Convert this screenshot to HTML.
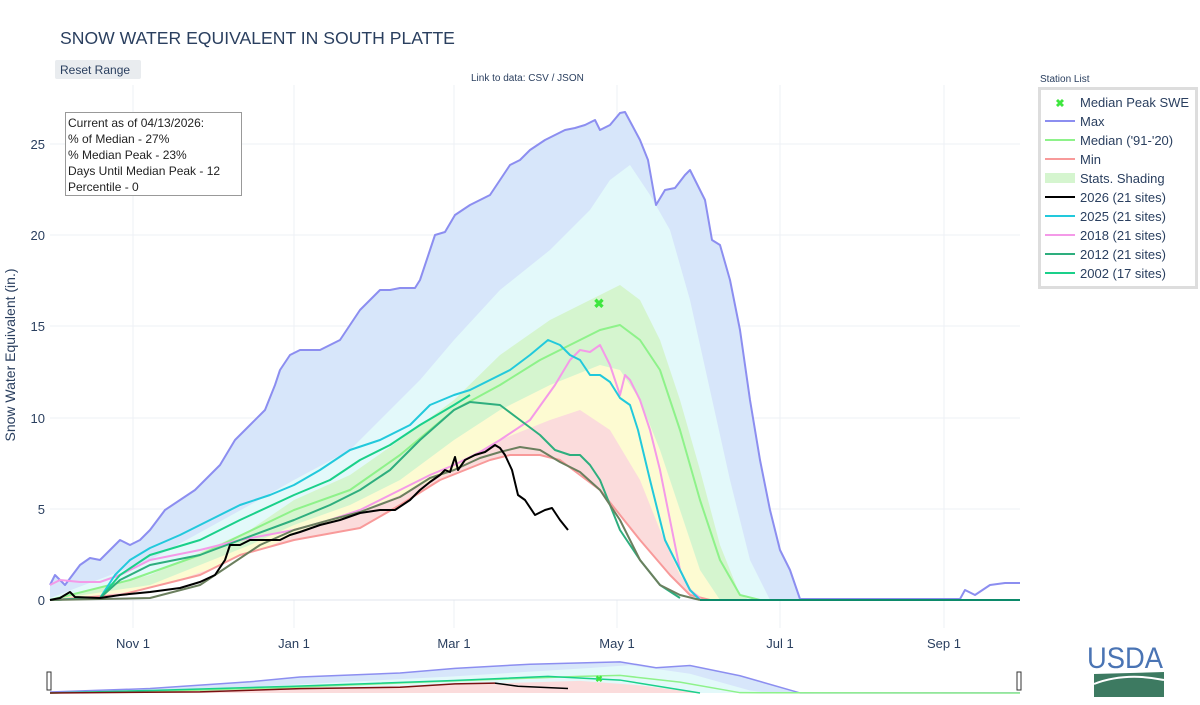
<!DOCTYPE html><html><head><meta charset="utf-8"><style>
body{margin:0;background:#fff;font-family:"Liberation Sans",sans-serif;}
</style></head><body>
<svg width="1200" height="700" viewBox="0 0 1200 700" xmlns="http://www.w3.org/2000/svg" font-family="Liberation Sans, sans-serif">
<rect width="1200" height="700" fill="#fff"/>
<text x="60" y="44" font-size="17.6" fill="#2a3f5f">SNOW WATER EQUIVALENT IN SOUTH PLATTE</text>
<rect x="55" y="60" width="86" height="19" fill="#e9ecef" rx="2"/>
<text x="60" y="74" font-size="12" fill="#2a3f5f">Reset Range</text>
<text x="471" y="81" font-size="10" fill="#2a3f5f">Link to data: CSV / JSON</text>
<!-- grid -->
<g stroke="#eef0f5" stroke-width="1">
<line x1="50" x2="1020" y1="509" y2="509"/><line x1="50" x2="1020" y1="418" y2="418"/><line x1="50" x2="1020" y1="326" y2="326"/><line x1="50" x2="1020" y1="235" y2="235"/><line x1="50" x2="1020" y1="144" y2="144"/>
<line x1="133" x2="133" y1="85" y2="628"/><line x1="294" x2="294" y1="85" y2="628"/><line x1="454" x2="454" y1="85" y2="628"/><line x1="617" x2="617" y1="85" y2="628"/><line x1="780" x2="780" y1="85" y2="628"/><line x1="944" x2="944" y1="85" y2="628"/>
</g>
<!-- shading -->
<polygon fill="#d7e6fa" points="50,585 55,575 65,585 80,565 90,558 100,560 110,550 120,540 130,545 140,540 150,530 165,510 180,500 195,490 205,480 220,465 235,440 250,425 265,410 275,385 280,370 290,355 300,350 320,350 340,340 350,325 360,310 370,300 380,290 390,290 400,288 415,288 420,280 430,250 435,235 445,232 455,215 470,205 490,195 500,180 510,165 520,160 530,150 545,140 555,135 565,130 575,128 585,125 595,120 600,130 610,125 620,113 625,112 632,125 640,140 648,160 656,205 665,190 675,188 685,175 690,170 695,180 705,200 712,240 720,245 730,280 740,330 750,400 760,460 770,510 780,550 790,570 800,600 50,600"/>
<polygon fill="#e3f9fa" points="50,598 150,560 250,505 294,480 350,450 420,380 454,340 500,290 550,250 590,210 610,180 630,165 650,195 670,230 690,300 710,390 730,480 750,560 770,600 50,600"/>
<polygon fill="#d5f5cf" points="50,600 150,575 250,530 294,500 350,475 400,440 454,400 500,355 550,320 600,295 620,285 640,300 660,340 680,400 700,470 720,545 740,595 750,600"/>
<polygon fill="#fdfbd2" points="50,600 150,585 250,545 294,525 350,505 400,480 454,440 500,410 550,385 600,365 620,370 640,400 660,450 680,510 700,570 720,600"/>
<polygon fill="#fbdcdc" points="50,600 150,590 250,555 294,535 350,515 400,495 454,470 500,440 550,420 580,410 610,430 640,480 660,530 680,575 700,600"/>
<polygon fill="#fff" points="50,600 120,595 200,575 240,555 294,540 360,528 400,505 440,480 490,460 510,455 540,455 560,460 600,490 640,540 670,575 690,595 710,600"/>
<line x1="50" x2="1020" y1="600" y2="600" stroke="#e0e4ec"/>
<!-- lines -->
<g fill="none" stroke-width="2" stroke-linejoin="round">
<polyline stroke="#8c8ef0" points="50,585 55,575 65,585 80,565 90,558 100,560 110,550 120,540 130,545 140,540 150,530 165,510 180,500 195,490 205,480 220,465 235,440 250,425 265,410 275,385 280,370 290,355 300,350 320,350 340,340 350,325 360,310 370,300 380,290 390,290 400,288 415,288 420,280 430,250 435,235 445,232 455,215 470,205 490,195 500,180 510,165 520,160 530,150 545,140 555,135 565,130 575,128 585,125 595,120 600,130 610,125 620,113 625,112 632,125 640,140 648,160 656,205 665,190 675,188 685,175 690,170 695,180 705,200 712,240 720,245 730,280 740,330 750,400 760,460 770,510 780,550 790,570 800,599 960,599 965,590 975,595 990,585 1005,583 1020,583"/>
<polyline stroke="#f89a9a" points="50,600 120,595 200,575 240,555 294,540 360,528 400,505 440,480 490,460 510,455 540,455 560,460 600,490 640,540 670,575 690,595 710,600"/>
<polyline stroke="#8ef28a" points="50,600 130,580 200,555 294,510 350,490 400,455 454,410 500,385 540,360 580,340 600,330 620,325 640,340 660,370 680,430 700,500 720,560 740,595 760,600 1020,600"/>
<polyline stroke="#f49ae8" points="50,585 60,580 80,582 100,582 120,575 150,560 200,550 240,540 294,530 330,520 360,510 400,490 430,475 454,465 480,452 500,440 530,420 555,385 570,360 580,350 590,352 600,345 610,365 615,380 620,395 625,375 630,380 640,400 650,430 660,470 670,520 680,570 690,590 700,598"/>
<polyline stroke="#22c9dc" points="50,600 100,598 115,575 130,560 150,548 180,535 210,520 240,505 270,495 294,485 320,470 350,450 380,440 410,425 430,405 454,395 470,390 490,380 510,370 530,355 548,340 560,345 570,355 580,360 590,375 600,375 610,382 620,398 630,405 638,430 650,480 665,540 680,570 690,590 700,600"/>
<polyline stroke="#1ad08a" points="50,600 100,598 120,575 150,555 200,540 240,520 294,495 330,480 360,460 390,445 420,425 454,405 470,395"/>
<polyline stroke="#2eae7e" points="50,600 100,598 120,580 150,565 200,555 240,540 294,520 330,505 360,490 390,470 420,440 454,410 470,402 500,405 520,420 540,435 555,450 570,455 580,455 590,465 600,480 610,505 620,530 640,560 660,585 680,598"/>
<polyline stroke="#6b7f5e" points="50,600 150,598 200,585 230,565 260,545 294,530 330,520 360,512 400,497 430,478 454,470 480,458 500,452 520,447 540,450 560,462 580,472 600,490 620,520 640,560 660,585 680,595 700,600"/>
<polyline stroke="#0c8a6a" points="700,600 1020,600"/>
<polyline stroke="#000" points="50,600 60,598 70,592 75,597 100,598 120,595 150,592 180,588 200,582 215,575 225,560 230,545 240,545 250,540 280,540 290,535 300,532 320,525 340,520 360,513 380,510 395,510 410,500 420,490 430,482 440,475 445,470 450,472 455,457 458,470 465,460 475,455 485,452 495,445 500,448 505,455 512,470 518,495 525,500 535,515 545,510 552,508 560,520 568,530"/>
</g>
<text x="599" y="308" font-size="13" fill="#3ee63e" text-anchor="middle" font-weight="bold">✖</text>
<!-- axes labels -->
<g font-size="13" fill="#2a3f5f" text-anchor="end">
<text x="45" y="605">0</text><text x="45" y="514">5</text><text x="45" y="423">10</text><text x="45" y="331">15</text><text x="45" y="240">20</text><text x="45" y="149">25</text>
</g>
<g font-size="13" fill="#2a3f5f" text-anchor="middle">
<text x="133" y="648">Nov  1</text><text x="294" y="648">Jan  1</text><text x="454" y="648">Mar  1</text><text x="617" y="648">May  1</text><text x="780" y="648">Jul  1</text><text x="944" y="648">Sep  1</text>
</g>
<text transform="translate(15,355) rotate(-90)" font-size="14" fill="#2a3f5f" text-anchor="middle">Snow Water Equivalent (in.)</text>
<!-- info box -->
<rect x="65.5" y="112.5" width="176" height="83" fill="#fff" stroke="#999"/>
<g font-size="12" fill="#222"><text x="68" y="127">Current as of 04/13/2026:</text><text x="68" y="143">% of Median - 27%</text><text x="68" y="159">% Median Peak - 23%</text><text x="68" y="175">Days Until Median Peak - 12</text><text x="68" y="191">Percentile - 0</text></g>
<!-- legend -->
<text x="1040" y="82" font-size="10" fill="#2a3f5f">Station List</text>
<rect x="1039.5" y="88.5" width="157" height="199" fill="#fff" stroke="#ddd" stroke-width="3"/>
<g font-size="13" fill="#2a3f5f">
<text x="1060" y="107" fill="#3ee63e" font-size="11" text-anchor="middle" font-weight="bold">✖</text><text x="1080" y="107">Median Peak SWE</text>
<line x1="1045" x2="1075" y1="121" y2="121" stroke="#8c8ef0" stroke-width="2"/><text x="1080" y="126">Max</text>
<line x1="1045" x2="1075" y1="140" y2="140" stroke="#8ef28a" stroke-width="2"/><text x="1080" y="145">Median ('91-'20)</text>
<line x1="1045" x2="1075" y1="159" y2="159" stroke="#f89a9a" stroke-width="2"/><text x="1080" y="164">Min</text>
<rect x="1045" y="173" width="30" height="10" fill="#d5f5cf"/><text x="1080" y="183">Stats. Shading</text>
<line x1="1045" x2="1075" y1="197" y2="197" stroke="#000" stroke-width="2"/><text x="1080" y="202">2026 (21 sites)</text>
<line x1="1045" x2="1075" y1="216" y2="216" stroke="#22c9dc" stroke-width="2"/><text x="1080" y="221">2025 (21 sites)</text>
<line x1="1045" x2="1075" y1="235" y2="235" stroke="#f49ae8" stroke-width="2"/><text x="1080" y="240">2018 (21 sites)</text>
<line x1="1045" x2="1075" y1="254" y2="254" stroke="#2eae7e" stroke-width="2"/><text x="1080" y="259">2012 (21 sites)</text>
<line x1="1045" x2="1075" y1="273" y2="273" stroke="#1ad08a" stroke-width="2"/><text x="1080" y="278">2002 (17 sites)</text>
</g>
<!-- range slider -->
<g transform="translate(0,661) scale(1,0.064) translate(0,-100)">
<polygon fill="#d7e6fa" points="50,585 150,530 250,425 300,350 400,288 455,215 530,150 620,113 656,205 690,170 740,330 800,600 50,600"/>
<polygon fill="#e3f9fa" points="50,598 250,505 454,340 590,210 630,165 690,300 750,560 770,600 50,600"/>
<polygon fill="#fbdcdc" points="50,600 250,555 454,470 580,410 640,480 700,600"/>
<polyline fill="none" vector-effect="non-scaling-stroke" stroke="#8c8ef0" stroke-width="1.5" points="50,585 150,530 250,425 300,350 400,288 455,215 530,150 620,113 656,205 690,170 740,330 800,599 1020,599"/>
<polyline fill="none" vector-effect="non-scaling-stroke" stroke="#8ef28a" stroke-width="1.5" points="50,600 200,555 294,510 454,410 580,340 620,325 680,430 740,595 1020,600"/>
<polyline fill="none" vector-effect="non-scaling-stroke" stroke="#1ad08a" stroke-width="1.5" points="50,600 150,560 294,495 454,405 548,340 620,398 700,600"/>
<polyline fill="none" vector-effect="non-scaling-stroke" stroke="#7a1010" stroke-width="1.5" points="50,600 200,582 300,532 400,510 455,457 495,445"/>
<polyline fill="none" vector-effect="non-scaling-stroke" stroke="#000" stroke-width="1.5" points="495,445 518,495 568,530"/>
</g>
<text x="599" y="682" font-size="9" fill="#3ee63e" text-anchor="middle" font-weight="bold">✖</text>
<rect x="47" y="672" width="4" height="18" fill="#fff" stroke="#333"/>
<rect x="1017" y="672" width="4" height="18" fill="#fff" stroke="#333"/>
<!-- USDA logo -->
<text x="1125" y="668" font-size="30" fill="#4a74b4" text-anchor="middle" font-family="Liberation Sans Narrow, Liberation Sans, sans-serif" textLength="76" lengthAdjust="spacingAndGlyphs">USDA</text>
<path d="M1094,674 L1164,672 L1164,697 L1094,697 Z" fill="#3d7a61"/>
<path d="M1094,684 Q1125,672 1164,680" stroke="#fff" stroke-width="2" fill="none"/>
</svg>
</body></html>
